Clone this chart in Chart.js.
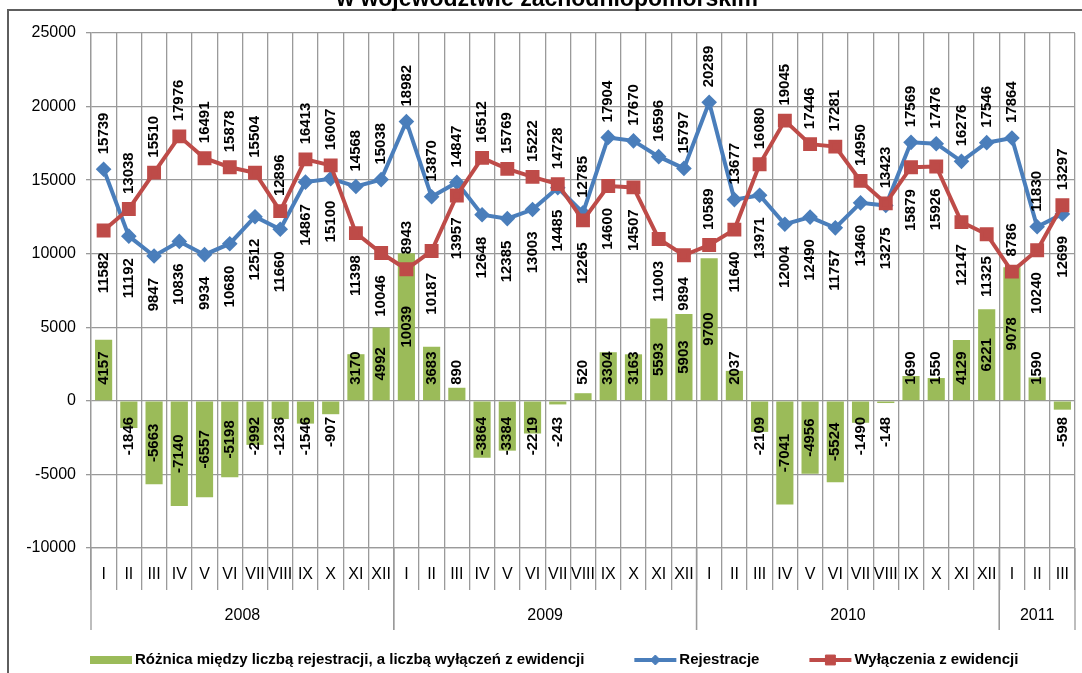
<!DOCTYPE html>
<html>
<head>
<meta charset="utf-8">
<script src="https://cdn.jsdelivr.net/npm/chart.js@4.4.0/dist/chart.umd.min.js"></script>
<style>
  body { margin: 0; background: #fff; }
  canvas { display: block; }
</style>
</head>
<body>
<canvas id="wykres" width="1082" height="673"></canvas>
<script>
// dane
const miesiace = [
  'I','II','III','IV','V','VI','VII','VIII','IX','X','XI','XII',
  'I','II','III','IV','V','VI','VII','VIII','IX','X','XI','XII',
  'I','II','III','IV','V','VI','VII','VIII','IX','X','XI','XII',
  'I','II','III'
];
const lata = ['2008', '2009', '2010', '2011'];
const miesiecyWRoku = [12, 12, 12, 3];

const rejestracje = [
  15739, 11192, 9847, 10836, 9934, 10680, 12512, 11660, 14867, 15100, 14568, 15038,
  18982, 13870, 14847, 12648, 12385, 13003, 14485, 12785, 17904, 17670, 16596, 15797,
  20289, 13677, 13971, 12004, 12490, 11757, 13460, 13275, 17569, 17476, 16276, 17546,
  17864, 11830, 12699
];
const wylaczenia = [
  11582, 13038, 15510, 17976, 16491, 15878, 15504, 12896, 16413, 16007, 11398, 10046,
  8943, 10187, 13957, 16512, 15769, 15222, 14728, 12265, 14600, 14507, 11003, 9894,
  10589, 11640, 16080, 19045, 17446, 17281, 14950, 13423, 15879, 15926, 12147, 11325,
  8786, 10240, 13297
];
const roznica = [
  4157, -1846, -5663, -7140, -6557, -5198, -2992, -1236, -1546, -907, 3170, 4992,
  10039, 3683, 890, -3864, -3384, -2219, -243, 520, 3304, 3163, 5593, 5903,
  9700, 2037, -2109, -7041, -4956, -5524, -1490, -148, 1690, 1550, 4129, 6221,
  9078, 1590, -598
];

const tytul = 'w województwie zachodniopomorskim';
const czcionka = '"Liberation Sans", Arial, sans-serif';
const szary = '#9a9a9a';

// ramka i obcięty tytuł
const ramka = {
  id: 'ramka',
  beforeDraw(chart) {
    const ctx = chart.ctx;
    ctx.save();
    ctx.strokeStyle = '#5e5e5e';
    ctx.lineWidth = 2;
    ctx.beginPath();
    ctx.moveTo(8, chart.height);
    ctx.lineTo(8, 10);
    ctx.lineTo(chart.width, 10);
    ctx.stroke();
    ctx.fillStyle = '#000';
    ctx.font = 'bold 23px ' + czcionka;
    ctx.textAlign = 'center';
    ctx.textBaseline = 'alphabetic';
    ctx.fillText(tytul, 547, 6);
    ctx.restore();
  }
};

// drugi wiersz osi: lata
const osLat = {
  id: 'osLat',
  afterDraw(chart) {
    const ctx = chart.ctx;
    const x = chart.scales.x;
    const krok = x.getPixelForValue(1) - x.getPixelForValue(0);
    const dol = chart.chartArea.bottom;
    ctx.save();
    ctx.strokeStyle = szary;
    ctx.lineWidth = 1.3;
    ctx.fillStyle = '#000';
    ctx.font = '16px ' + czcionka;
    ctx.textAlign = 'center';
    ctx.textBaseline = 'middle';
    let start = 0;
    miesiecyWRoku.forEach((n, i) => {
      const x0 = x.getPixelForValue(start) - krok / 2;
      const x1 = x.getPixelForValue(start + n - 1) + krok / 2;
      ctx.beginPath();
      ctx.moveTo(x0, dol); ctx.lineTo(x0, 630);
      ctx.moveTo(x1, dol); ctx.lineTo(x1, 630);
      ctx.stroke();
      ctx.fillText(lata[i], (x0 + x1) / 2, 616);
      start += n;
    });
    ctx.restore();
  }
};

// pionowe etykiety wartości
const etykiety = {
  id: 'etykiety',
  afterDatasetsDraw(chart) {
    const ctx = chart.ctx;
    const zero = chart.scales.y.getPixelForValue(0);
    ctx.save();
    ctx.fillStyle = '#000';
    ctx.font = 'bold 15px ' + czcionka;
    ctx.textAlign = 'center';
    ctx.textBaseline = 'middle';
    const pisz = (t, x, y) => {
      ctx.save();
      ctx.translate(x, y);
      ctx.rotate(-Math.PI / 2);
      ctx.fillText(t, 0, 0);
      ctx.restore();
    };
    // słupki: środek słupka, ale nie bliżej osi zera niż 16 px
    const gornaSlupka = [];
    chart.getDatasetMeta(0).data.forEach((bar, i) => {
      const v = roznica[i];
      const t = String(v);
      const dl = ctx.measureText(t).width;
      const srodek = (bar.y + bar.base) / 2;
      const y = v >= 0 ? Math.min(srodek, zero - 16 - dl / 2) : Math.max(srodek, zero + 16 + dl / 2);
      gornaSlupka[i] = v >= 0 ? y - dl / 2 : Infinity;
      pisz(t, bar.x, y);
    });
    // linie: wyższa seria nad punktem, niższa pod punktem (chyba że wpada na etykietę słupka)
    const linie = [[1, rejestracje, wylaczenia], [2, wylaczenia, rejestracje]];
    linie.forEach(([idx, dane, inne]) => {
      chart.getDatasetMeta(idx).data.forEach((pt, i) => {
        const t = String(dane[i]);
        const dl = ctx.measureText(t).width;
        let nad = dane[i] >= inne[i];
        if (!nad && pt.y + 22 + dl + 10 > gornaSlupka[i]) nad = true;
        const y = nad ? pt.y - 15 - dl / 2 : pt.y + 22 + dl / 2;
        pisz(t, pt.x, y);
      });
    });
    ctx.restore();
  }
};

// legenda pod wykresem
const legenda = {
  id: 'legenda',
  afterDraw(chart) {
    const ctx = chart.ctx;
    const y = 660;
    let x = 90;
    ctx.save();
    ctx.font = 'bold 15px ' + czcionka;
    ctx.textBaseline = 'middle';
    ctx.textAlign = 'left';
    chart.data.datasets.forEach(ds => {
      if (ds.type === 'bar') {
        ctx.fillStyle = ds.backgroundColor;
        ctx.fillRect(x, y - 4, 42, 8);
      } else {
        ctx.strokeStyle = ds.borderColor;
        ctx.lineWidth = ds.borderWidth;
        ctx.beginPath();
        ctx.moveTo(x, y); ctx.lineTo(x + 42, y);
        ctx.stroke();
        ctx.fillStyle = ds.pointBackgroundColor;
        ctx.strokeStyle = ds.pointBorderColor;
        ctx.lineWidth = 1;
        Chart.helpers.drawPoint(ctx, { pointStyle: ds.pointStyle, radius: ds.pointRadius, rotation: 0, borderWidth: 1 }, x + 21, y);
      }
      x += 45;
      ctx.fillStyle = '#000';
      ctx.fillText(ds.label, x, y);
      x += ctx.measureText(ds.label).width + 50;
    });
    ctx.restore();
  }
};

new Chart(document.getElementById('wykres'), {
  data: {
    labels: miesiace,
    datasets: [
      {
        type: 'bar',
        label: 'Różnica między liczbą rejestracji, a liczbą wyłączeń z ewidencji',
        data: roznica,
        backgroundColor: '#9bbb59',
        barPercentage: 0.68,
        categoryPercentage: 1,
        order: 3
      },
      {
        type: 'line',
        label: 'Rejestracje',
        data: rejestracje,
        borderColor: '#4a7ebb',
        backgroundColor: '#4a7ebb',
        borderWidth: 4,
        pointStyle: 'rectRot',
        pointRadius: 5,
        pointBackgroundColor: '#4a7ebb',
        pointBorderColor: '#4a7ebb',
        tension: 0,
        order: 2
      },
      {
        type: 'line',
        label: 'Wyłączenia z ewidencji',
        data: wylaczenia,
        borderColor: '#be4b48',
        backgroundColor: '#be4b48',
        borderWidth: 4,
        pointStyle: 'rect',
        pointRadius: 7,
        pointBackgroundColor: '#be4b48',
        pointBorderColor: '#be4b48',
        tension: 0,
        order: 1
      }
    ]
  },
  options: {
    responsive: false,
    animation: false,
    devicePixelRatio: 1,
    events: [],
    layout: { autoPadding: false, padding: { top: 33, left: 0, right: 7, bottom: 0 } },
    plugins: {
      legend: { display: false },
      tooltip: { enabled: false }
    },
    scales: {
      x: {
        offset: true,
        grid: { offset: true, color: szary, lineWidth: 1.3, tickLength: 42, tickColor: szary },
        border: { color: szary, width: 1.3 },
        ticks: {
          autoSkip: false, maxRotation: 0, padding: -25,
          color: '#000', font: { size: 16, family: czcionka }
        },
        afterFit(s) { s.height = 125; s.paddingLeft = 0; s.paddingRight = 0; }
      },
      y: {
        min: -10000,
        max: 25000,
        grid: { color: szary, lineWidth: 1.3, tickLength: 5, tickColor: szary },
        border: { color: szary, width: 1.3 },
        ticks: {
          stepSize: 5000, padding: 10,
          color: '#000', font: { size: 16, family: czcionka },
          callback: (v) => String(v)
        },
        afterFit(s) { s.width = 91; }
      }
    }
  },
  plugins: [ramka, osLat, etykiety, legenda]
});
</script>
</body>
</html>
